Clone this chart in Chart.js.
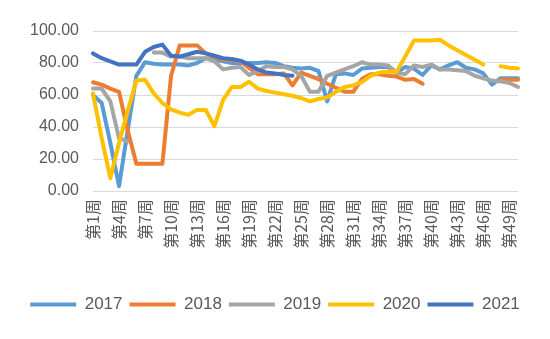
<!DOCTYPE html>
<html>
<head>
<meta charset="utf-8">
<script src="https://cdn.jsdelivr.net/npm/chart.js@4/dist/chart.umd.min.js"></script>
<style>
  html, body { margin: 0; padding: 0; background: #ffffff; }
  #wrap { width: 550px; height: 339px; position: relative; }
</style>
</head>
<body>
<div id="wrap"><canvas id="c" width="550" height="339"></canvas></div>
<script>
// ---- data ----
const weeks = [];
for (let i = 1; i <= 50; i++) weeks.push('第' + i + '周');

const seriesNames = ['2017', '2018', '2019', '2020', '2021'];

const y2017 = [60,55,30,3,38,72,80.5,79.5,79,79, 79,78.5,80,83,82,81,80,80,80,80,
  80.5,80,78,77,76.5,77,75,56,73,73.5, 72.5,76.5,77,77.5,77.5,74,77.5,76.5,72.5,78.5,
  76,78.5,80.5,77,76,73.5,66.5,70.5,70.5,70.5];

const y2018 = [68,66.5,64,62,38,17,17,17,17,72, 91,91,91,86,84,82,82,81,77,73,
  73,73,73.5,66,74,72,70,67,64.5,62, 62,70,73,73,72,71.5,69.5,70,67,null,
  null,null,null,null,null,null,null,69.5,69.5,69.5];

const y2019 = [64,64,56,33,31,null,null,86.5,86.5,84, 84,83,83,83,81,76,77,77.5,72.5,75,
  78,77.5,77.5,76,72,62,62,72,74,76, 78,80.5,79,79,78.5,74,73,78.5,77.5,79,
  76,76,75.5,75,72,70.5,69,68.5,67.5,65];

const y2020 = [61,33,8,30,50,69,69.5,61,55,51, 49,47.6,50.7,50.7,40.5,57,65,65,68.3,64,
  62.5,61.5,60.5,59.5,58,56,57.5,58.5,62,65, 66,68,72,74,74.5,74.5,84,94,94,94,
  94.5,91,88,85,82,79,null,78,77,76.5];

const y2021 = [86,83,81,79,79,79,87,90,91.5,84.5, 84,85.5,87,86,84.5,83,82.5,81.5,79,76,
  74,73.5,72.5,72,null,null,null,null,null,null, null,null,null,null,null,null,null,null,null,null,
  null,null,null,null,null,null,null,null,null,null];

const yTicks = [0, 20, 40, 60, 80, 100];

const colors = ['#5B9BD5', '#ED7D31', '#A5A5A5', '#FFC000', '#4472C4'];
const values = [y2017, y2018, y2019, y2020, y2021];

const datasets = seriesNames.map((name, i) => ({
  label: name,
  data: values[i],
  borderColor: colors[i],
  backgroundColor: colors[i],
  borderWidth: 4,
  pointRadius: 0,
  pointHoverRadius: 0,
  tension: 0,
  spanGaps: false,
  borderCapStyle: 'round',
  borderJoinStyle: 'round',
  fill: false,
  order: seriesNames.length - i
}));

new Chart(document.getElementById('c'), {
  type: 'line',
  data: { labels: weeks, datasets: datasets },
  options: {
    responsive: false,
    animation: false,
    events: [],
    layout: { padding: { top: 31, right: 0, bottom: 16, left: 0 } },
    scales: {
      x: {
        type: 'category',
        offset: false,
        grid: { display: false, drawTicks: false },
        border: { display: false },
        ticks: {
          autoSkip: false,
          minRotation: 90,
          maxRotation: 90,
          padding: 8,
          color: '#595959',
          font: { family: '"Noto Sans CJK SC", "Liberation Sans", sans-serif', size: 16 },
          callback: function (val, idx) { return idx % 3 === 0 ? this.getLabelForValue(val) : ''; }
        },
        afterFit: (scale) => { scale.height = 98; }
      },
      y: {
        min: 0,
        max: 100,
        afterBuildTicks: (scale) => { scale.ticks = yTicks.map(v => ({ value: v })); },
        grid: { color: '#D9D9D9', lineWidth: 1, drawTicks: false },
        border: { display: false },
        ticks: {
          padding: 14,
          color: '#595959',
          font: { family: '"Liberation Sans", Arial, sans-serif', size: 16 },
          callback: (v) => Number(v).toFixed(2)
        },
        afterFit: (scale) => { scale.width = 93; }
      },
      yRightSpace: {
        type: 'linear',
        position: 'right',
        display: true,
        grid: { display: false, drawTicks: false },
        border: { display: false },
        ticks: { display: false },
        afterFit: (scale) => { scale.width = 32; }
      }
    },
    plugins: {
      tooltip: { enabled: false },
      legend: {
        position: 'bottom',
        labels: {
          usePointStyle: true,
          pointStyle: 'line',
          pointStyleWidth: 46,
          padding: 7,
          color: '#595959',
          font: { family: '"Liberation Sans", Arial, sans-serif', size: 17 },
          sort: (a, b) => a.datasetIndex - b.datasetIndex
        }
      }
    }
  }
});
</script>
</body>
</html>
